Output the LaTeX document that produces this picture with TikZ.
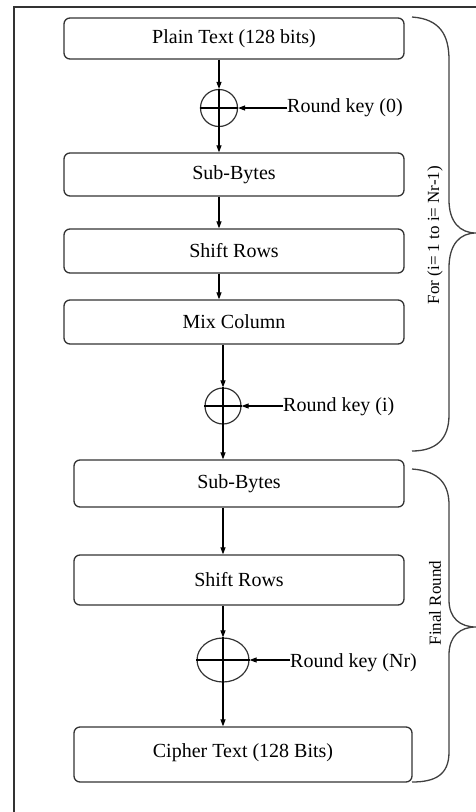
\documentclass[tikz,border=0pt]{standalone}
\usepackage{fontspec}
\setmainfont{Liberation Serif}
\usetikzlibrary{arrows.meta,shapes.geometric}
\tikzset{
  stagebox/.style={draw=black!80, line width=1.3pt, rounded corners=6pt, inner sep=0pt,
    font=\fontsize{20}{24}\selectfont},
  xorring/.style={draw=black!80, line width=1.2pt, circle, inner sep=0pt, minimum size=37pt},
  xorell/.style={draw=black!80, line width=1.2pt, ellipse, inner sep=0pt, minimum width=52pt, minimum height=44pt},
  arr/.style={line width=1.1pt, -{Triangle[length=7pt,width=5pt]}},
  keytext/.style={font=\fontsize{20}{24}\selectfont, inner sep=0pt, anchor=base west},
  bracepath/.style={draw=black!75, line width=1.3pt},
  sidelabel/.style={font=\fontsize{17}{20}\selectfont, rotate=90, inner sep=0pt}
}
\begin{document}
\begin{tikzpicture}[x=1pt,y=-1pt]
\useasboundingbox (0,0) rectangle (476,812);
% outer frame (partly visible)
\draw[line width=1.3pt, black!80] (14,812) -- (14,7) -- (476,7);

% boxes
\node[stagebox, minimum width=340pt, minimum height=41pt] (plain) at (234,38.5) {Plain Text (128 bits)};
\node[stagebox, minimum width=340pt, minimum height=43pt] (sub1) at (234,174.5) {Sub-Bytes};
\node[stagebox, minimum width=340pt, minimum height=44pt] (shift1) at (234,251) {Shift Rows};
\node[stagebox, minimum width=340pt, minimum height=44pt] (mix) at (234,322) {Mix Column};
\node[stagebox, minimum width=330pt, minimum height=47pt] (sub2) at (239,483.5) {Sub-Bytes};
\node[stagebox, minimum width=330pt, minimum height=50pt] (shift2) at (239,580) {Shift Rows};
\node[stagebox, minimum width=338pt, minimum height=55pt, text depth=8pt] (cipher) at (243,754.5) {Cipher Text (128 Bits)};

% xor nodes
\node[xorring] (x1) at (219,108) {};
\node[xorring, minimum size=36pt] (x2) at (223,406) {};
\node[xorell] (x3) at (223,660) {};
\foreach \n in {x1,x2,x3}{
  \draw[line width=1.1pt] (\n.north) -- (\n.south);
  \draw[line width=1.1pt] (\n.west) -- (\n.east);
}

% round keys
\coordinate (k0) at (287,108);
\coordinate (ki) at (283,406);
\coordinate (kn) at (290,660);
\node[keytext] (key0) at (287,112) {Round key (0)};
\node[keytext] (keyi) at (283,411) {Round key (i)};
\node[keytext] (keyn) at (290,667) {Round key (Nr)};
\draw[arr] (k0) -- (x1.east);
\draw[arr] (ki) -- (x2.east);
\draw[arr] (kn) -- (x3.east);

% flow arrows
\draw[arr] (x1 |- plain.south) -- (x1.north);
\draw[arr] (x1.south) -- (x1 |- sub1.north);
\draw[arr] (x1 |- sub1.south) -- (x1 |- shift1.north);
\draw[arr] (x1 |- shift1.south) -- (x1 |- mix.north);
\draw[arr] (x2 |- mix.south) -- (x2.north);
\draw[arr] (x2.south) -- (x2 |- sub2.north);
\draw[arr] (x3 |- sub2.south) -- (x3 |- shift2.north);
\draw[arr] (x3 |- shift2.south) -- (x3.north);
\draw[arr] (x3.south) -- (x3 |- cipher.north);

% braces
\draw[bracepath] (412,17) .. controls (440,19) and (449,35) .. (449,60) -- (449,200)
  .. controls (449,222) and (460,233) .. (476,233)
  .. controls (460,233) and (449,244) .. (449,268) -- (449,415)
  .. controls (449,440) and (435,451) .. (412,451);
\draw[bracepath] (412,469) .. controls (440,471) and (449,485) .. (449,505) -- (449,600)
  .. controls (449,618) and (460,627) .. (476,627)
  .. controls (460,627) and (449,636) .. (449,655) -- (449,752)
  .. controls (449,775) and (435,782) .. (412,782);

\node[sidelabel] (lab1) at (435,235) {For (i= 1 to i= Nr-1)};
\node[sidelabel] (lab2) at (435,603) {Final Round};
\end{tikzpicture}
\end{document}
